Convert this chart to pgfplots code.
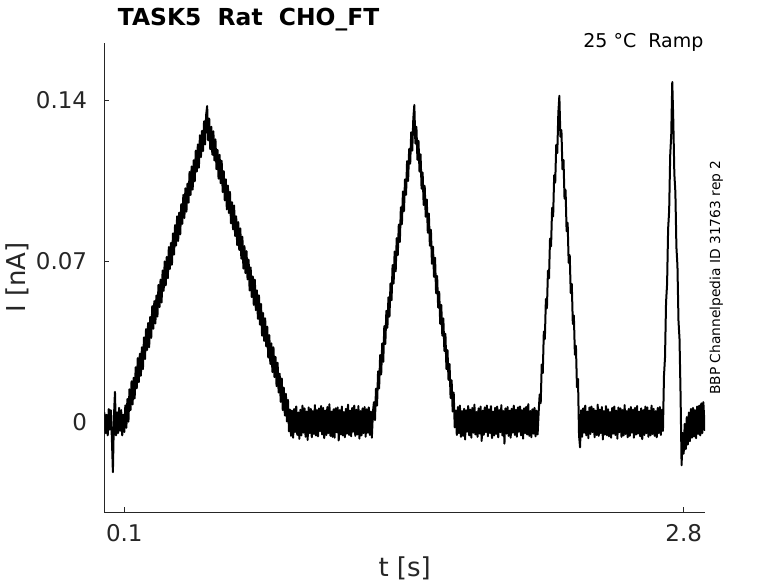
\documentclass[border=0pt]{standalone}
\usepackage{fontspec}
\setmainfont{DejaVu Sans}
\usepackage{pgfplots}
\pgfplotsset{compat=1.18}
\usepackage{pgfplotstable}
\definecolor{axc}{RGB}{38,38,38}
\pgfplotstableread{
t I
0.004 0.0040
0.010 -0.0050
0.015 0.0030
0.020 -0.0060
0.025 0.0055
0.030 -0.0035
0.035 0.0050
0.040 -0.0070
0.045 -0.0220
0.050 0.0020
0.055 0.0130
0.060 -0.0060
0.065 0.0040
0.070 -0.0050
0.075 0.0060
0.080 -0.0040
0.085 0.0050
0.090 -0.0060
0.095 0.0030
0.100 -0.0045
0.105 0.0071
0.110 -0.0027
0.115 0.0099
0.120 0.0000
0.125 0.0141
0.130 0.0050
0.135 0.0176
0.140 0.0075
0.145 0.0191
0.150 0.0101
0.155 0.0237
0.160 0.0145
0.165 0.0277
0.170 0.0172
0.175 0.0296
0.180 0.0200
0.185 0.0324
0.190 0.0229
0.195 0.0367
0.200 0.0273
0.205 0.0403
0.210 0.0312
0.215 0.0430
0.220 0.0324
0.225 0.0456
0.230 0.0365
0.235 0.0503
0.240 0.0405
0.245 0.0525
0.250 0.0428
0.255 0.0550
0.260 0.0458
0.265 0.0596
0.270 0.0499
0.275 0.0619
0.280 0.0519
0.285 0.0659
0.290 0.0570
0.295 0.0698
0.300 0.0594
0.305 0.0718
0.310 0.0625
0.315 0.0761
0.320 0.0665
0.325 0.0779
0.330 0.0684
0.335 0.0820
0.340 0.0728
0.345 0.0856
0.350 0.0767
0.355 0.0895
0.360 0.0787
0.365 0.0911
0.370 0.0816
0.375 0.0948
0.380 0.0862
0.385 0.0988
0.390 0.0887
0.395 0.1017
0.400 0.0915
0.405 0.1037
0.410 0.0954
0.415 0.1088
0.420 0.0988
0.425 0.1112
0.430 0.1011
0.435 0.1139
0.440 0.1047
0.445 0.1181
0.450 0.1090
0.455 0.1208
0.460 0.1106
0.465 0.1248
0.470 0.1153
0.475 0.1267
0.480 0.1179
0.485 0.1309
0.490 0.1208
0.495 0.1336
0.500 0.1375
0.505 0.1226
0.510 0.1320
0.515 0.1187
0.520 0.1285
0.525 0.1163
0.530 0.1265
0.535 0.1138
0.540 0.1230
0.545 0.1100
0.550 0.1184
0.555 0.1059
0.560 0.1163
0.565 0.1039
0.570 0.1137
0.575 0.1000
0.580 0.1092
0.585 0.0964
0.590 0.1056
0.595 0.0925
0.600 0.1029
0.605 0.0909
0.610 0.1001
0.615 0.0864
0.620 0.0956
0.625 0.0838
0.630 0.0942
0.635 0.0809
0.640 0.0895
0.645 0.0769
0.650 0.0869
0.655 0.0748
0.660 0.0842
0.665 0.0710
0.670 0.0806
0.675 0.0667
0.680 0.0765
0.685 0.0647
0.690 0.0743
0.695 0.0620
0.700 0.0706
0.705 0.0572
0.710 0.0672
0.715 0.0543
0.720 0.0633
0.725 0.0509
0.730 0.0619
0.735 0.0486
0.740 0.0572
0.745 0.0448
0.750 0.0550
0.755 0.0423
0.760 0.0513
0.765 0.0375
0.770 0.0473
0.775 0.0352
0.780 0.0450
0.785 0.0328
0.790 0.0414
0.795 0.0279
0.800 0.0377
0.805 0.0251
0.810 0.0341
0.815 0.0216
0.820 0.0324
0.825 0.0194
0.830 0.0282
0.835 0.0155
0.840 0.0257
0.845 0.0127
0.850 0.0209
0.855 0.0086
0.860 0.0188
0.865 0.0050
0.870 0.0148
0.875 0.0027
0.880 0.0121
0.885 0.0001
0.890 0.0095
0.895 -0.0042
0.900 0.0052
0.905 -0.0062
0.910 0.0048
0.915 -0.0070
0.920 0.0055
0.925 -0.0045
0.930 0.0066
0.935 -0.0058
0.940 0.0040
0.945 -0.0075
0.950 0.0052
0.955 -0.0060
0.960 0.0070
0.965 -0.0048
0.970 0.0058
0.975 -0.0066
0.980 0.0044
0.985 -0.0080
0.990 0.0062
0.995 -0.0050
1.000 0.0056
1.005 -0.0068
1.010 0.0046
1.015 -0.0054
1.020 0.0072
1.025 -0.0060
1.030 0.0050
1.035 -0.0064
1.040 0.0058
1.045 -0.0042
1.050 0.0068
1.055 -0.0056
1.060 0.0060
1.065 -0.0072
1.070 0.0048
1.075 -0.0058
1.080 0.0064
1.085 -0.0050
1.090 0.0076
1.095 -0.0062
1.100 0.0044
1.105 -0.0066
1.110 0.0054
1.115 -0.0070
1.120 0.0058
1.125 -0.0046
1.130 0.0062
1.135 -0.0082
1.140 0.0050
1.145 -0.0056
1.150 0.0066
1.155 -0.0060
1.160 0.0042
1.165 -0.0068
1.170 0.0056
1.175 -0.0052
1.180 0.0074
1.185 -0.0058
1.190 0.0048
1.195 -0.0064
1.200 0.0060
1.205 -0.0044
1.210 0.0070
1.215 -0.0062
1.220 0.0052
1.225 -0.0056
1.230 0.0068
1.235 -0.0074
1.240 0.0046
1.245 -0.0060
1.250 0.0058
1.255 -0.0050
1.260 0.0064
1.265 -0.0066
1.270 0.0054
1.275 -0.0048
1.280 0.0062
1.285 -0.0058
1.290 0.0044
1.295 -0.0070
1.300 0.0040
1.305 0.0085
1.310 0.0007
1.315 0.0144
1.320 0.0070
1.325 0.0219
1.330 0.0145
1.335 0.0290
1.340 0.0206
1.345 0.0341
1.350 0.0261
1.355 0.0416
1.360 0.0338
1.365 0.0483
1.370 0.0409
1.375 0.0542
1.380 0.0458
1.385 0.0603
1.390 0.0529
1.395 0.0682
1.400 0.0602
1.405 0.0741
1.410 0.0655
1.415 0.0800
1.420 0.0726
1.425 0.0859
1.430 0.0783
1.435 0.0934
1.440 0.0860
1.445 0.1003
1.450 0.0917
1.455 0.1056
1.460 0.0988
1.465 0.1135
1.470 0.1049
1.475 0.1188
1.480 0.1124
1.485 0.1261
1.490 0.1181
1.495 0.1320
1.500 0.1380
1.505 0.1212
1.510 0.1285
1.515 0.1141
1.520 0.1224
1.525 0.1090
1.530 0.1165
1.535 0.1015
1.540 0.1086
1.545 0.0944
1.550 0.1027
1.555 0.0893
1.560 0.0968
1.565 0.0824
1.570 0.0907
1.575 0.0767
1.580 0.0836
1.585 0.0688
1.590 0.0763
1.595 0.0631
1.600 0.0714
1.605 0.0560
1.610 0.0635
1.615 0.0497
1.620 0.0566
1.625 0.0426
1.630 0.0509
1.635 0.0375
1.640 0.0450
1.645 0.0308
1.650 0.0383
1.655 0.0229
1.660 0.0312
1.665 0.0182
1.670 0.0251
1.675 0.0103
1.680 0.0180
1.685 0.0044
1.690 0.0127
1.695 -0.0025
1.700 0.0048
1.705 -0.0058
1.710 0.0064
1.715 -0.0050
1.720 0.0070
1.725 -0.0066
1.730 0.0046
1.735 -0.0062
1.740 0.0056
1.745 -0.0078
1.750 0.0050
1.755 -0.0044
1.760 0.0068
1.765 -0.0060
1.770 0.0052
1.775 -0.0070
1.780 0.0060
1.785 -0.0048
1.790 0.0074
1.795 -0.0056
1.800 0.0042
1.805 -0.0066
1.810 0.0058
1.815 -0.0052
1.820 0.0066
1.825 -0.0084
1.830 0.0048
1.835 -0.0058
1.840 0.0062
1.845 -0.0046
1.850 0.0070
1.855 -0.0064
1.860 0.0054
1.865 -0.0050
1.870 0.0068
1.875 -0.0072
1.880 0.0044
1.885 -0.0060
1.890 0.0060
1.895 -0.0054
1.900 0.0066
1.905 -0.0068
1.910 0.0050
1.915 -0.0046
1.920 0.0072
1.925 -0.0060
1.930 0.0046
1.935 -0.0096
1.940 0.0058
1.945 -0.0052
1.950 0.0064
1.955 -0.0062
1.960 0.0048
1.965 -0.0070
1.970 0.0056
1.975 -0.0048
1.980 0.0070
1.985 -0.0058
1.990 0.0052
1.995 -0.0066
2.000 0.0062
2.005 -0.0044
2.010 0.0066
2.015 -0.0060
2.020 0.0050
2.025 -0.0074
2.030 0.0058
2.035 -0.0050
2.040 0.0064
2.045 -0.0056
2.050 0.0076
2.055 -0.0062
2.060 0.0046
2.065 -0.0068
2.070 0.0054
2.075 -0.0052
2.080 0.0060
2.085 -0.0064
2.090 0.0048
2.095 -0.0056
2.100 0.0040
2.105 0.0118
2.110 0.0081
2.115 0.0249
2.120 0.0212
2.125 0.0392
2.130 0.0360
2.135 0.0534
2.140 0.0494
2.145 0.0658
2.150 0.0624
2.155 0.0798
2.160 0.0764
2.165 0.0932
2.170 0.0894
2.175 0.1074
2.180 0.1042
2.185 0.1206
2.190 0.1170
2.195 0.1344
2.200 0.1420
2.205 0.1242
2.210 0.1270
2.215 0.1100
2.220 0.1140
2.225 0.0972
2.230 0.1010
2.235 0.0830
2.240 0.0866
2.245 0.0692
2.250 0.0726
2.255 0.0560
2.260 0.0600
2.265 0.0426
2.270 0.0462
2.275 0.0292
2.280 0.0330
2.285 0.0150
2.290 0.0186
2.295 -0.0060
2.300 -0.0112
2.305 0.0050
2.310 -0.0066
2.315 0.0058
2.320 -0.0048
2.325 0.0070
2.330 -0.0060
2.335 0.0044
2.340 -0.0072
2.345 0.0062
2.350 -0.0054
2.355 0.0066
2.360 -0.0046
2.365 0.0056
2.370 -0.0068
2.375 0.0048
2.380 -0.0058
2.385 0.0074
2.390 -0.0062
2.395 0.0052
2.400 -0.0050
2.405 0.0064
2.410 -0.0078
2.415 0.0046
2.420 -0.0056
2.425 0.0068
2.430 -0.0060
2.435 0.0054
2.440 -0.0064
2.445 0.0042
2.450 -0.0070
2.455 0.0060
2.460 -0.0052
2.465 0.0066
2.470 -0.0058
2.475 0.0048
2.480 -0.0074
2.485 0.0062
2.490 -0.0046
2.495 0.0058
2.500 -0.0066
2.505 0.0050
2.510 -0.0060
2.515 0.0072
2.520 -0.0054
2.525 0.0046
2.530 -0.0068
2.535 0.0056
2.540 -0.0062
2.545 0.0064
2.550 -0.0048
2.555 0.0052
2.560 -0.0070
2.565 0.0060
2.570 -0.0056
2.575 0.0068
2.580 -0.0052
2.585 0.0044
2.590 -0.0064
2.595 0.0058
2.600 -0.0076
2.605 0.0050
2.610 -0.0058
2.615 0.0066
2.620 -0.0050
2.625 0.0062
2.630 -0.0066
2.635 0.0048
2.640 -0.0060
2.645 0.0070
2.650 -0.0054
2.655 0.0056
2.660 -0.0062
2.665 0.0046
2.670 -0.0068
2.675 0.0060
2.680 -0.0050
2.685 0.0064
2.690 -0.0058
2.695 0.0052
2.700 -0.0040
2.705 0.0200
2.710 0.0280
2.715 0.0520
2.720 0.0600
2.725 0.0840
2.730 0.0920
2.735 0.1160
2.740 0.1250
2.745 0.1480
2.750 0.1310
2.755 0.1080
2.760 0.1000
2.765 0.0760
2.770 0.0680
2.775 0.0440
2.780 0.0360
2.785 0.0120
2.790 -0.0190
2.795 -0.0050
2.800 -0.0140
2.805 -0.0010
2.810 -0.0120
2.815 0.0020
2.820 -0.0100
2.825 0.0040
2.830 -0.0085
2.835 0.0055
2.840 -0.0070
2.845 0.0060
2.850 -0.0065
2.855 0.0050
2.860 -0.0072
2.865 0.0066
2.870 -0.0054
2.875 0.0070
2.880 -0.0060
2.885 0.0080
2.890 -0.0050
2.895 0.0085
2.902 -0.0040
}\trace

\begin{document}
\begin{tikzpicture}
\path[use as bounding box] (-52.15pt,-35.35pt) rectangle (336.85pt,256.15pt);
\begin{axis}[
  name=ax,
  at={(0pt,0pt)}, anchor=south west,
  scale only axis, width=300.35pt, height=234.65pt,
  xmin=0.0035, xmax=2.903, ymin=-0.0395, ymax=0.165,
  axis x line*=bottom, axis y line*=left,
  axis line style={-, draw=axc, line width=0.4pt},
  tick align=inside, major tick length=2.5pt,
  tick style={draw=axc, line width=0.4pt},
  xtick={0.1,2.8}, xticklabels={0.1,2.8},
  ytick={0,0.07,0.14}, yticklabels={0,0.07,0.14},
  minor tick num=0,
  scaled x ticks=false, scaled y ticks=false,
  xticklabel style={anchor=base, inner sep=0pt, yshift=-14.85pt, font=\fontsize{11.5}{13}\selectfont, text=axc},
  yticklabel style={anchor=east, inner sep=0pt, xshift=-8.4pt, font=\fontsize{11.5}{13}\selectfont, text=axc},
  xlabel={t [s]}, ylabel={I [nA]},
  xlabel style={at={([yshift=-32.1pt]axis description cs:0.5,0)}, anchor=base, inner sep=0pt, font=\fontsize{13}{15}\selectfont, text=axc},
  ylabel style={at={([xshift=-39.4pt]axis description cs:0,0.5)}, anchor=base, inner sep=0pt, font=\fontsize{13}{15}\selectfont, text=axc},
  clip=true,
]
\addplot[black, line width=1.0pt, line join=round] table[x=t, y=I] {\trace};
\end{axis}
\node[anchor=base west, inner sep=0pt, font=\bfseries\fontsize{11.7}{14}\selectfont, text=black] at ([xshift=6.6pt, yshift=8.85pt]ax.north west) {TASK5\ \ Rat\ \ CHO\_FT};
\node[anchor=base east, inner sep=0pt, font=\fontsize{9.5}{11}\selectfont, text=black] at ([xshift=-0.6pt, yshift=-2.35pt]ax.north east) {25 °C\ \ Ramp};
\node[rotate=90, anchor=base, inner sep=0pt, font=\fontsize{6.9}{8}\selectfont, text=black] at ([xshift=7.6pt]ax.east) {BBP Channelpedia ID 31763 rep 2};
\end{tikzpicture}
\end{document}
